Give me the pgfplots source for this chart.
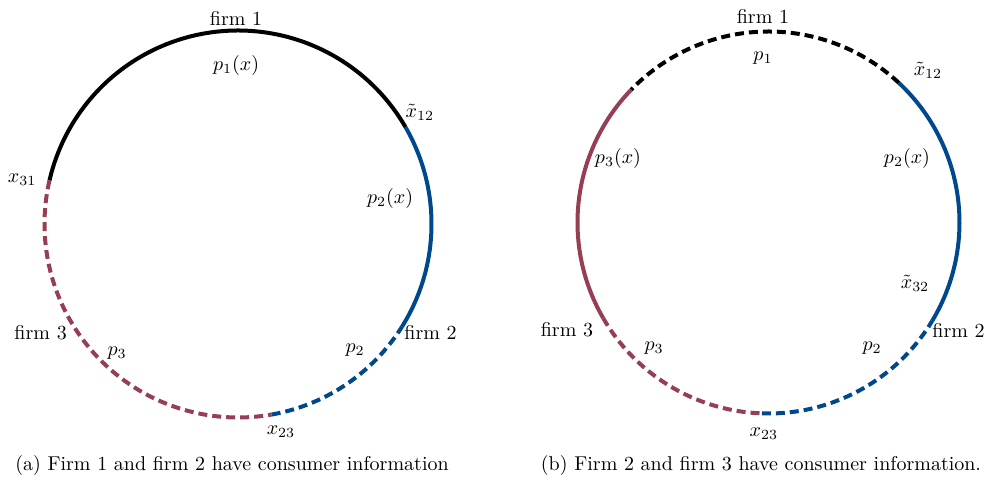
\documentclass[border=0pt]{standalone}
\usepackage{pgfplots}
\pgfplotsset{compat=1.18}
\definecolor{cblue}{RGB}{0,72,140}
\definecolor{cred}{RGB}{150,62,82}
\tikzset{
  solidarc/.style={line width=2pt},
  dasharc/.style={line width=2pt, dash pattern=on 4.5pt off 2.5pt},
}
\pgfplotsset{circ/.style={
  hide axis, clip=false, anchor=origin,
  xmin=-1.1, xmax=1.1, ymin=-1.1, ymax=1.1,
  every axis plot/.append style={no marks, samples=80, smooth},
}}
\begin{document}
\begin{tikzpicture}
\useasboundingbox (0,0) rectangle (492.5pt,242.5pt);
% ---------- (a) ----------
\begin{axis}[circ, x=96.75pt, y=96.75pt, at={(119pt,130.5pt)}]
\addplot[solidarc, black, domain=30:167, variable=\t] ({cos(t)},{sin(t)});
\addplot[solidarc, cblue, domain=-32:30, variable=\t] ({cos(t)},{sin(t)});
\addplot[dasharc, cblue, domain=-80:-32, variable=\t] ({cos(t)},{sin(t)});
\addplot[dasharc, cred, domain=167:280, variable=\t] ({cos(t)},{sin(t)});
\node at (axis cs:-0.01,1.06) {firm 1};
\node at (axis cs:-0.01,0.82) {$p_1(x)$};
\node at (axis cs:0.94,0.575) {$\tilde{x}_{12}$};
\node at (axis cs:0.786,0.13) {$p_2(x)$};
\node at (axis cs:-1.116,0.227) {$x_{31}$};
\node at (axis cs:-1.02,-0.56) {firm 3};
\node at (axis cs:-0.625,-0.667) {$p_3$};
\node at (axis cs:0.605,-0.651) {$p_2$};
\node at (axis cs:0.995,-0.563) {firm 2};
\node at (axis cs:0.222,-1.075) {$x_{23}$};
\end{axis}
% ---------- (b) ----------
\begin{axis}[circ, x=95.5pt, y=95.5pt, at={(384.25pt,131.25pt)}]
\addplot[dasharc, black, domain=47:136, variable=\t] ({cos(t)},{sin(t)});
\addplot[solidarc, cblue, domain=-31:47, variable=\t] ({cos(t)},{sin(t)});
\addplot[dasharc, cblue, domain=-92:-31, variable=\t] ({cos(t)},{sin(t)});
\addplot[dasharc, cred, domain=210:268, variable=\t] ({cos(t)},{sin(t)});
\addplot[solidarc, cred, domain=136:210, variable=\t] ({cos(t)},{sin(t)});
\node at (axis cs:-0.029,1.08) {firm 1};
\node at (axis cs:-0.029,0.86) {$p_1$};
\node at (axis cs:0.835,0.798) {$\tilde{x}_{12}$};
\node at (axis cs:-0.788,0.335) {$p_3(x)$};
\node at (axis cs:0.725,0.335) {$p_2(x)$};
\node at (axis cs:0.767,-0.317) {$\tilde{x}_{32}$};
\node at (axis cs:-1.055,-0.563) {firm 3};
\node at (axis cs:0.995,-0.563) {firm 2};
\node at (axis cs:-0.599,-0.657) {$p_3$};
\node at (axis cs:0.542,-0.657) {$p_2$};
\node at (axis cs:-0.024,-1.107) {$x_{23}$};
\end{axis}
\node at (116pt,9.5pt) {(a) Firm 1 and firm 2 have consumer information};
\node at (380.5pt,9.5pt) {(b) Firm 2 and firm 3 have consumer information.};
\end{tikzpicture}
\end{document}
